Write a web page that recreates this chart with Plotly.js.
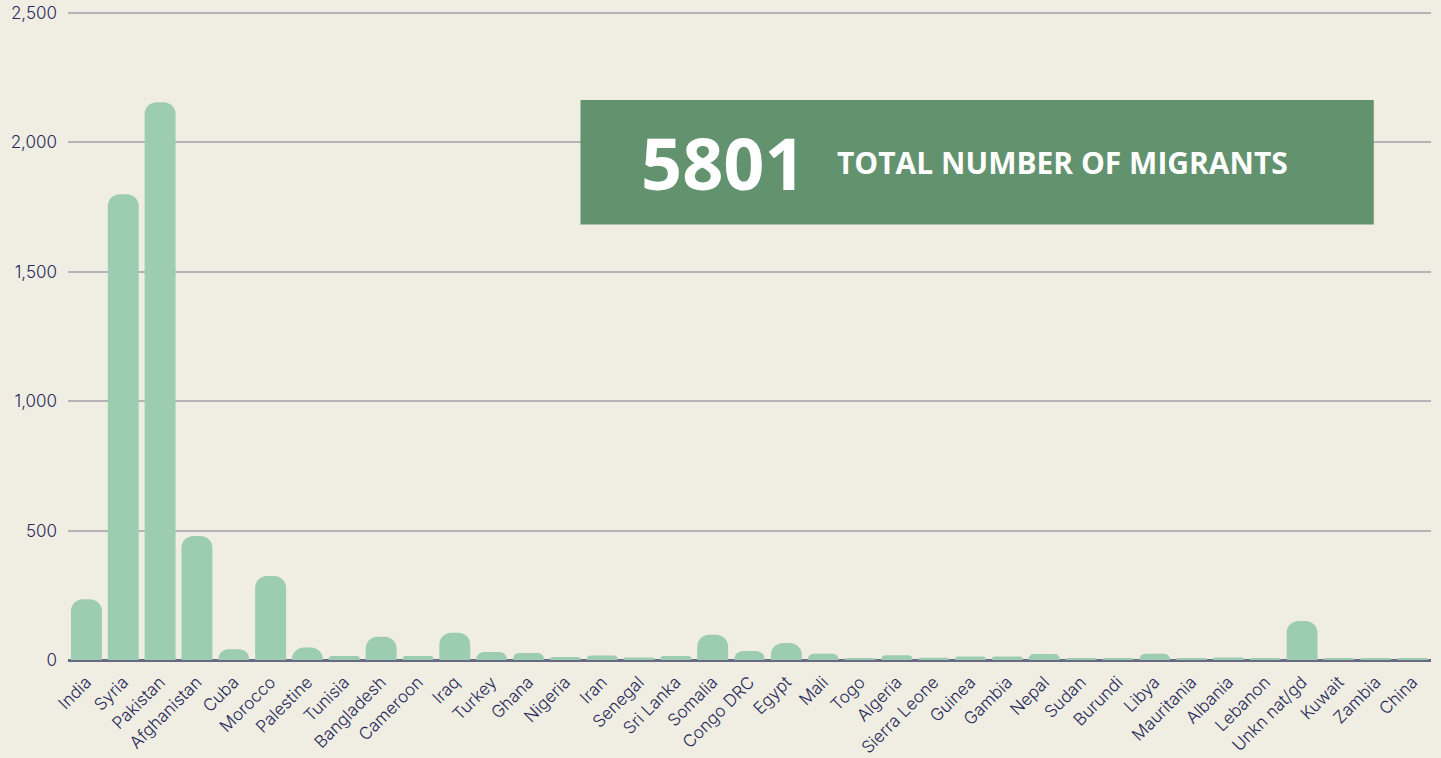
<!DOCTYPE html>
<html>
<head>
<meta charset="utf-8">
<script src="https://cdn.plot.ly/plotly-3.0.1.min.js"></script>
<style>html,body{margin:0;padding:0;background:#f0ede3;}#chart{width:1441px;height:758px;}</style>
</head>
<body>
<div id="chart"></div>
<script>
const countries = ["India","Syria","Pakistan","Afghanistan","Cuba","Morocco","Palestine","Tunisia","Bangladesh","Cameroon","Iraq","Turkey","Ghana","Nigeria","Iran","Senegal","Sri Lanka","Somalia","Congo DRC","Egypt","Mali","Togo","Algeria","Sierra Leone","Guinea","Gambia","Nepal","Sudan","Burundi","Libya","Mauritania","Albania","Lebanon","Unkn nat/gd","Kuwait","Zambia","China"];
const migrants = [235,1800,2155,479,42,325,48,15,90,15,105,31,27,12,17,10,15,98,35,66,24,8,18,9,14,14,23,8,8,24,8,10,8,151,8,8,8];
const yTicks = [0,500,1000,1500,2000,2500];
const yTickText = ["0","500","1,000","1,500","2,000","2,500"];
const totalValue = "5801";
const totalLabel = "TOTAL NUMBER OF MIGRANTS";

const trace = {
  type: "bar",
  x: countries,
  y: migrants,
  marker: {color: "#9ccdb0", cornerradius: 12},
  hoverinfo: "x+y"
};

const layout = {
  width: 1441, height: 758,
  paper_bgcolor: "#f0ede3", plot_bgcolor: "#f0ede3",
  margin: {l: 68, r: 10, t: 11, b: 98},
  bargap: 0.16,
  showlegend: false,
  font: {family: "Inter, Lato, sans-serif", color: "#262a5a"},
  xaxis: {
    tickangle: -45,
    tickfont: {size: 17, color: "#262a5a", weight: 300},
    ticklabelstandoff: 8,
    showgrid: false, ticks: "", showline: false,
    fixedrange: true
  },
  yaxis: {
    range: [0, 2508],
    tickvals: yTicks, ticktext: yTickText,
    tickfont: {size: 17, color: "#262a5a", weight: 300},
    ticklabelstandoff: 10,
    showgrid: true, gridcolor: "#b3b3b8", gridwidth: 2,
    zeroline: true, zerolinecolor: "#676a82", zerolinewidth: 3,
    ticks: "", showline: false
  },
  shapes: [{
    type: "rect", xref: "paper", yref: "paper",
    x0: 0.376, x1: 0.958, y0: 0.671, y1: 0.863,
    fillcolor: "#63926f", line: {width: 0}, layer: "above"
  }],
  annotations: [
    {xref: "paper", yref: "paper", x: 0.481, y: 0.767, text: "<b>" + totalValue + "</b>",
     showarrow: false, xanchor: "center", yanchor: "middle",
     font: {family: "Open Sans", size: 72, color: "#ffffff"}},
    {xref: "paper", yref: "paper", x: 0.563, y: 0.767, text: "<b>" + totalLabel + "</b>",
     showarrow: false, xanchor: "left", yanchor: "middle",
     font: {family: "Open Sans", size: 30, color: "#ffffff"}}
  ]
};

Plotly.newPlot("chart", [trace], layout, {displayModeBar: false, staticPlot: true});
</script>
</body>
</html>
